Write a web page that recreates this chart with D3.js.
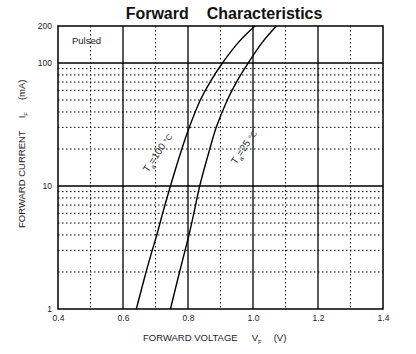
<!DOCTYPE html>
<html>
<head>
<meta charset="utf-8">
<script src="https://cdn.jsdelivr.net/npm/d3@7"></script>
<style>
  body { margin: 0; background: #fff; }
  svg { font-family: "Liberation Sans", Arial, sans-serif; }
  .tick text { fill: #222; }
</style>
</head>
<body>
<div id="chart"></div>
<script>
// Chart data
const currents = [1, 2, 3, 4, 6, 10, 20, 30, 50, 70, 100, 150, 200];  // I_F (mA)
const vf100 = [0.641, 0.671, 0.690, 0.704, 0.722, 0.746, 0.781, 0.804, 0.838, 0.868, 0.906, 0.958, 1.006]; // Ta=100°C
const vf25  = [0.746, 0.774, 0.791, 0.803, 0.818, 0.836, 0.867, 0.887, 0.921, 0.949, 0.985, 1.031, 1.072]; // Ta=25°C
const xTicks = [0.4, 0.6, 0.8, 1.0, 1.2, 1.4];
const xMinor = [0.5, 0.7, 0.9, 1.1, 1.3];
const yTicks = [1, 10, 100, 200];
const yMajorGrid = [10, 100];
const yMinor = [2, 3, 4, 5, 6, 7, 8, 9, 20, 30, 40, 50, 60, 70, 80, 90];

// Dimensions
let w = 416, h = 354;
let plotL = 58, plotR = 383, plotT = 26, plotB = 309;

let svg = d3.select("#chart").append("svg").attr("width", w).attr("height", h);

// Scales
let xScale = d3.scaleLinear().domain([0.4, 1.4]).range([plotL, plotR]);
let yScale = d3.scaleLog().domain([1, 200]).range([plotB, plotT]);

// Dotted grid
svg.append("g").selectAll("line").data(xMinor).join("line")
  .attr("x1", d => xScale(d)).attr("x2", d => xScale(d)).attr("y1", plotT).attr("y2", plotB)
  .attr("stroke", "#000").attr("stroke-width", 1).attr("stroke-dasharray", "1.5,2.5");
svg.append("g").selectAll("line").data(yMinor).join("line")
  .attr("x1", plotL).attr("x2", plotR).attr("y1", d => yScale(d)).attr("y2", d => yScale(d))
  .attr("stroke", "#000").attr("stroke-width", 1).attr("stroke-dasharray", "1.5,2.5");

// Solid grid
svg.append("g").selectAll("line").data(xTicks.slice(1, -1)).join("line")
  .attr("x1", d => xScale(d)).attr("x2", d => xScale(d)).attr("y1", plotT).attr("y2", plotB)
  .attr("stroke", "#000").attr("stroke-width", 1.3);
svg.append("g").selectAll("line").data(yMajorGrid).join("line")
  .attr("x1", plotL).attr("x2", plotR).attr("y1", d => yScale(d)).attr("y2", d => yScale(d))
  .attr("stroke", "#000").attr("stroke-width", 1.3);

// Frame
svg.append("rect").attr("x", plotL).attr("y", plotT).attr("width", plotR - plotL).attr("height", plotB - plotT)
  .attr("fill", "none").attr("stroke", "#000").attr("stroke-width", 1.5);

// Axes (labels only)
let xAxis = d3.axisBottom(xScale).tickValues(xTicks).tickFormat(d3.format(".1f")).tickSize(0).tickPadding(6);
let yAxis = d3.axisLeft(yScale).tickValues(yTicks).tickFormat(d3.format("d")).tickSize(0).tickPadding(6);
let gx = svg.append("g").attr("transform", "translate(0," + plotB + ")").call(xAxis);
let gy = svg.append("g").attr("transform", "translate(" + plotL + ",0)").call(yAxis);
[gx, gy].forEach(g => {
  g.select(".domain").remove();
  g.selectAll("text").attr("font-size", 8.5).attr("font-family", "Liberation Sans, Arial, sans-serif");
});

// Curves
let line = d3.line().x(d => xScale(d[1])).y(d => yScale(d[0])).curve(d3.curveCatmullRom.alpha(0.5));
[vf100, vf25].forEach(vs => {
  svg.append("path").datum(currents.map((c, i) => [c, vs[i]])).attr("d", line)
    .attr("fill", "none").attr("stroke", "#000").attr("stroke-width", 1.4);
});

// Curve labels
function curveLabel(x, y, temp) {
  let t = svg.append("text").attr("transform", "translate(" + x + "," + y + ") rotate(-56)")
    .attr("font-size", 10).attr("fill", "#333");
  t.append("tspan").text("T");
  t.append("tspan").text("a").attr("font-size", 6.5).attr("dy", 3);
  t.append("tspan").text("=" + temp + " ").attr("dy", -3);
  t.append("tspan").text("°C").attr("font-size", 8);
}
curveLabel(148, 173, "100");
curveLabel(236, 165, "25");

// Pulsed
svg.append("text").text("Pulsed").attr("x", 72).attr("y", 44).attr("font-size", 9.5).attr("fill", "#222");

// Title
let title = svg.append("text").attr("x", 224).attr("y", 19).attr("text-anchor", "middle")
  .attr("font-size", 16).attr("font-weight", "bold").attr("fill", "#111");
title.append("tspan").text("Forward");
title.append("tspan").text("Characteristics").attr("dx", 18);

// X label
let xl = svg.append("text").attr("x", 143).attr("y", 341).attr("font-size", 9.5).attr("fill", "#222");
xl.append("tspan").text("FORWARD VOLTAGE");
xl.append("tspan").text("V").attr("dx", 14);
xl.append("tspan").text("F").attr("font-size", 6).attr("dy", 3);
xl.append("tspan").text("(V)").attr("dx", 12).attr("dy", -3);

// Y label
let yl = svg.append("text").attr("transform", "translate(25,228) rotate(-90)").attr("font-size", 9.5).attr("fill", "#222");
yl.append("tspan").text("FORWARD CURRENT");
yl.append("tspan").text("I").attr("dx", 12);
yl.append("tspan").text("F").attr("font-size", 6).attr("dy", 3);
yl.append("tspan").text("(mA)").attr("dx", 12).attr("dy", -3);
</script>
</body>
</html>
